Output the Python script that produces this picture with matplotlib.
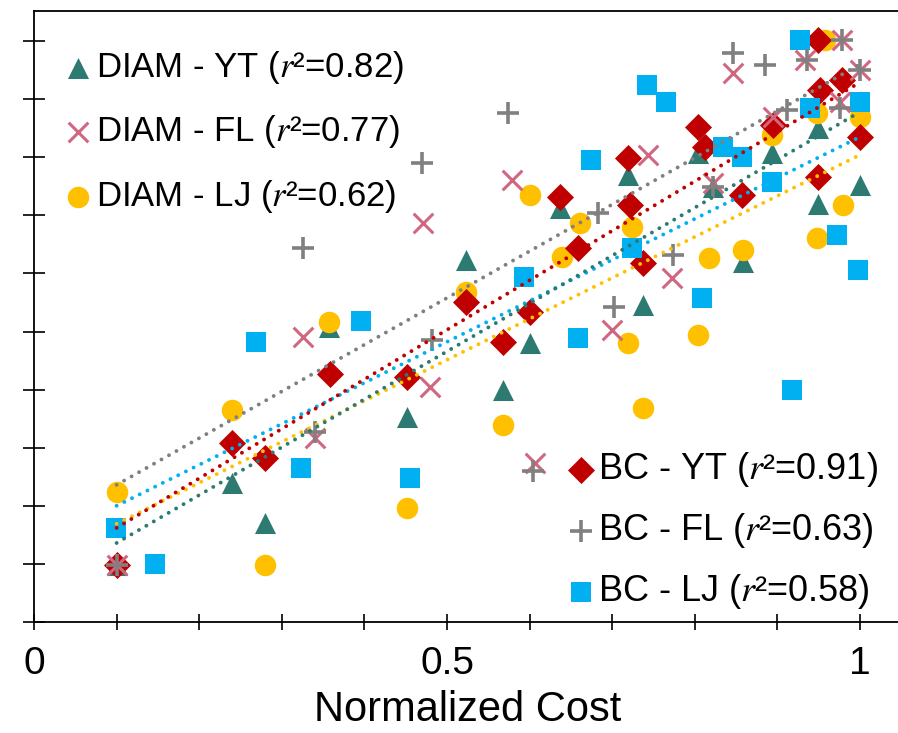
import numpy as np
import matplotlib
matplotlib.use('Agg')
import matplotlib.pyplot as plt

plt.rcParams['font.family'] = ['Liberation Sans', 'DejaVu Sans']
plt.rcParams['mathtext.fontset'] = 'stix'

# --- data (normalized cost, normalized value) ---
diam_yt_x = [0.100, 0.240, 0.280, 0.357, 0.451, 0.523, 0.568, 0.600, 0.637, 0.719,
             0.737, 0.804, 0.822, 0.858, 0.893, 0.949, 0.949, 1.000]
diam_yt_y = [0.098, 0.239, 0.170, 0.508, 0.353, 0.623, 0.399, 0.480, 0.713, 0.769,
             0.546, 0.807, 0.749, 0.620, 0.807, 0.719, 0.850, 0.752]

diam_fl_x = [0.100, 0.326, 0.340, 0.471, 0.479, 0.579, 0.606, 0.700, 0.743, 0.772,
             0.822, 0.846, 0.895, 0.933, 0.978, 1.000, 0.976]
diam_fl_y = [0.098, 0.491, 0.317, 0.687, 0.404, 0.761, 0.274, 0.503, 0.804, 0.592,
             0.756, 0.945, 0.869, 0.967, 1.002, 0.950, 0.895]

diam_lj_x = [0.100, 0.240, 0.280, 0.357, 0.452, 0.523, 0.568, 0.600, 0.639, 0.661,
             0.724, 0.719, 0.737, 0.804, 0.817, 0.858, 0.893, 0.948, 0.979, 0.948,
             1.000, 0.958]
diam_lj_y = [0.224, 0.365, 0.098, 0.516, 0.196, 0.568, 0.339, 0.735, 0.628, 0.687,
             0.680, 0.480, 0.368, 0.494, 0.627, 0.640, 0.838, 0.661, 0.718, 0.876,
             0.869, 1.002]

bc_yt_x = [0.100, 0.240, 0.280, 0.358, 0.452, 0.523, 0.568, 0.600, 0.637, 0.659,
           0.719, 0.722, 0.737, 0.804, 0.812, 0.857, 0.895, 0.949, 0.952, 0.978,
           0.949, 1.000]
bc_yt_y = [0.098, 0.308, 0.282, 0.427, 0.422, 0.551, 0.482, 0.534, 0.731, 0.644,
           0.799, 0.718, 0.618, 0.852, 0.818, 0.735, 0.855, 0.766, 0.916, 0.933,
           1.002, 0.835]

bc_fl_x = [0.100, 0.326, 0.340, 0.470, 0.482, 0.574, 0.604, 0.683, 0.702, 0.774,
           0.822, 0.846, 0.885, 0.912, 0.936, 0.978, 1.000, 0.976]
bc_fl_y = [0.098, 0.644, 0.327, 0.790, 0.485, 0.876, 0.260, 0.704, 0.542, 0.632,
           0.749, 0.980, 0.959, 0.881, 0.967, 1.002, 0.950, 0.885]

bc_lj_x = [0.099, 0.147, 0.269, 0.323, 0.396, 0.455, 0.593, 0.659, 0.674, 0.724,
           0.742, 0.765, 0.809, 0.834, 0.857, 0.893, 0.918, 0.927, 0.939, 0.972,
           0.998, 1.000]
bc_lj_y = [0.162, 0.100, 0.482, 0.265, 0.518, 0.248, 0.594, 0.489, 0.795, 0.644,
           0.924, 0.895, 0.558, 0.818, 0.800, 0.757, 0.399, 1.002, 0.885, 0.666,
           0.606, 0.895]

# trend lines (value at x=0.1 and x=1.0)
fit_x = [0.1, 1.0]
fit_bc_fl = [0.236, 0.960]
fit_bc_yt = [0.162, 0.929]
fit_diam_yt = [0.136, 0.878]
fit_bc_lj = [0.200, 0.835]
fit_diam_lj = [0.169, 0.804]

labels_top = ['DIAM - YT ($r$²=0.82)', 'DIAM - FL ($r$²=0.77)', 'DIAM - LJ ($r$²=0.62)']
labels_bot = ['BC - YT ($r$²=0.91)', 'BC - FL ($r$²=0.63)', 'BC - LJ ($r$²=0.58)']

c_teal = '#2c7a71'
c_pink = '#d06680'
c_yellow = '#ffc000'
c_red = '#c00000'
c_gray = '#808080'
c_blue = '#00b0f0'

W, H = 898, 733
fig = plt.figure(figsize=(W / 100, H / 100), dpi=100)
ax = fig.add_axes([34 / W, (H - 622) / H, 1.05 * 826 / W, 611 / H])

h_yt = ax.scatter(diam_yt_x, diam_yt_y, marker='^', s=230, color=c_teal, linewidths=0, zorder=2)
h_lj = ax.scatter(diam_lj_x, diam_lj_y, marker='o', s=240, color=c_yellow, linewidths=0, zorder=3)
h_byt = ax.scatter(bc_yt_x, bc_yt_y, marker='D', s=190, color=c_red, linewidths=0, zorder=4)
h_blj = ax.scatter(bc_lj_x, bc_lj_y, marker='s', s=210, color=c_blue, linewidths=0, zorder=5)
h_fl = ax.scatter(diam_fl_x, diam_fl_y, marker='x', s=200, color=c_pink, linewidths=2.2, zorder=6)
h_bfl = ax.scatter(bc_fl_x, bc_fl_y, marker='+', s=260, color=c_gray, linewidths=2.6, zorder=7)

dot = (0, (0.01, 2.2))
for fy, col in [(fit_diam_lj, c_yellow), (fit_bc_lj, c_blue), (fit_diam_yt, c_teal),
                (fit_bc_yt, c_red), (fit_bc_fl, c_gray)]:
    ax.plot(fit_x, fy, color=col, lw=2.8, linestyle=dot, dash_capstyle='round', zorder=8)

ax.set_xlim(0, 1.05)
ax.set_ylim(0, 611 / 581)
ax.spines['right'].set_visible(False)
for sp in ['left', 'bottom', 'top']:
    ax.spines[sp].set_linewidth(1.3)

xt = np.round(np.arange(0, 1.01, 0.1), 1)
ax.set_xticks(xt)
ax.set_xticklabels(['0' if v == 0 else '0.5' if v == 0.5 else '1' if v == 1 else '' for v in xt])
ax.set_yticks(xt)
ax.set_yticklabels([])
ax.tick_params(axis='x', direction='inout', length=12, width=1.2, labelsize=28, pad=11)
ax.tick_params(axis='y', direction='inout', length=16, width=1.2)
ax.set_xlabel('Normalized Cost', fontsize=30, labelpad=6)

leg1 = ax.legend([h_yt, h_fl, h_lj], labels_top, loc='upper left',
                 bbox_to_anchor=(68 / W, 1 - 49 / H), bbox_transform=fig.transFigure,
                 frameon=False, fontsize=25, borderpad=0, borderaxespad=0,
                 handlelength=0.6, handletextpad=0.2, labelspacing=0.79, scatterpoints=1)
ax.add_artist(leg1)
ax.legend([h_byt, h_bfl, h_blj], labels_bot, loc='upper left',
          bbox_to_anchor=(571 / W, 1 - 450 / H), bbox_transform=fig.transFigure,
          frameon=False, fontsize=26, borderpad=0, borderaxespad=0,
          handlelength=0.55, handletextpad=0.2, labelspacing=0.61, scatterpoints=1)

fig.savefig('out.png', dpi=100)
